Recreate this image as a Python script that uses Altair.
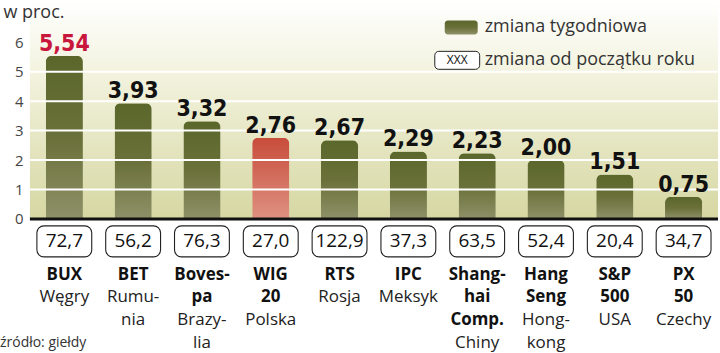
import altair as alt
import pandas as pd

# ---------------- data ----------------
categories = ["BUX", "BET", "Bovespa", "WIG 20", "RTS", "IPC",
              "Shanghai Comp.", "Hang Seng", "S&P 500", "PX 50"]
weekly = [5.54, 3.93, 3.32, 2.76, 2.67, 2.29, 2.23, 2.00, 1.51, 0.75]
ytd = [72.7, 56.2, 76.3, 27.0, 122.9, 37.3, 63.5, 52.4, 20.4, 34.7]
name_lines = [["BUX"], ["BET"], ["Boves-", "pa"], ["WIG", "20"], ["RTS"], ["IPC"],
              ["Shang-", "hai", "Comp."], ["Hang", "Seng"], ["S&P", "500"], ["PX", "50"]]
country_lines = [["Węgry"], ["Rumu-", "nia"], ["Brazy-", "lia"], ["Polska"], ["Rosja"],
                 ["Meksyk"], ["Chiny"], ["Hong-", "kong"], ["USA"], ["Czechy"]]
y_ticks = [0, 1, 2, 3, 4, 5, 6]
gridlines = [1, 2, 3, 4, 5]
highlight = "WIG 20"
top_gainer = "BUX"
unit_title = "w proc."
source_text = "źródło: giełdy"
legend_weekly = "zmiana tygodniowa"
legend_ytd = "zmiana od początku roku"

df = pd.DataFrame({
    "cat": categories,
    "weekly": weekly,
    "weekly_label": [f"{v:.2f}".replace(".", ",") for v in weekly],
    "ytd_label": [f"{v:.1f}".replace(".", ",") for v in ytd],
})

rows = []
for c, names, countries in zip(categories, name_lines, country_lines):
    r = 1
    for t in names:
        rows.append({"cat": c, "row": r, "text": t, "bold": True})
        r += 1
    for t in countries:
        rows.append({"cat": c, "row": r, "text": t, "bold": False})
        r += 1
lines_df = pd.DataFrame(rows)

# ---------------- styles ----------------
FONT = "Open Sans"
NARROW = "DejaVu Sans Condensed, Liberation Sans Narrow, Roboto, sans-serif"

green_grad = {"gradient": "linear", "x1": 0, "y1": 0, "x2": 0, "y2": 1,
              "stops": [{"offset": 0, "color": "#5a672b"},
                        {"offset": 0.5, "color": "#6a7039"},
                        {"offset": 1, "color": "#8e9168"}]}
red_grad = {"gradient": "linear", "x1": 0, "y1": 0, "x2": 0, "y2": 1,
            "stops": [{"offset": 0, "color": "#c84c3b"},
                      {"offset": 1, "color": "#df9181"}]}
bg_grad = {"gradient": "linear", "x1": 0, "y1": 0, "x2": 0, "y2": 1,
           "stops": [{"offset": 0, "color": "#ffffff"},
                     {"offset": 0.3, "color": "#f4f4e2"},
                     {"offset": 1, "color": "#d6d7a2"}]}

W = 690
H_TOP = 219
H_BOT = 134

x_scale = alt.Scale(domain=categories, paddingInner=0.46, paddingOuter=0.23)
X = alt.X("cat:N", scale=x_scale, axis=None, sort=categories)
y_scale = alt.Scale(domain=[0, 7.42], nice=False, zero=True)
y_axis = alt.Axis(values=y_ticks, grid=False, domain=False, ticks=False,
                  labelFont=FONT, labelFontSize=15, labelColor="#444",
                  labelPadding=7, title=unit_title, titleAngle=0,
                  titleAlign="left", titleBaseline="middle",
                  titleX=-27, titleY=12, titleFont=FONT, titleFontSize=18,
                  titleFontWeight="normal", titleColor="#333", zindex=2)


def Y(field):
    return alt.Y(field, scale=y_scale, axis=y_axis, title=unit_title)


# ---------------- top chart ----------------
one = pd.DataFrame({"z": [0]})

background = alt.Chart(one).mark_rect(fill=bg_grad).encode(
    x=alt.value(0), x2=alt.value("width"), y=alt.value(0), y2=alt.value("height"))

bar_base = alt.Chart(df)

bars_green = bar_base.transform_filter(alt.datum.cat != highlight).mark_bar(
    fill=green_grad, cornerRadiusTopLeft=6, cornerRadiusTopRight=6
).encode(x=X, y=Y("weekly:Q"))

bars_red = bar_base.transform_filter(alt.datum.cat == highlight).mark_bar(
    fill=red_grad, cornerRadiusTopLeft=6, cornerRadiusTopRight=6
).encode(x=X, y=Y("weekly:Q"))

grid = alt.Chart(pd.DataFrame({"g": gridlines})).mark_rule(
    color="white", strokeWidth=2).encode(y=Y("g:Q"))

zero = alt.Chart(one).mark_rule(color="#111", strokeWidth=3).encode(y=Y("z:Q"))

value_labels = bar_base.mark_text(
    font=NARROW, fontSize=23, fontWeight="bold", baseline="alphabetic", dy=-5
).encode(
    x=X, y=Y("weekly:Q"), text="weekly_label:N",
    color=alt.condition(alt.datum.cat == top_gainer, alt.value("#c8163c"), alt.value("#111")))

# legend (manual)
leg_swatch = alt.Chart(one).mark_rect(fill=green_grad, cornerRadius=3).encode(
    x=alt.value(416), x2=alt.value(449), y=alt.value(20), y2=alt.value(34))
leg_text1 = alt.Chart(one).mark_text(
    text=legend_weekly, font=FONT, fontSize=18, align="left", baseline="middle",
    color="#333").encode(x=alt.value(456), y=alt.value(27))
leg_box = alt.Chart(one).mark_rect(fill="white", stroke="#222", strokeWidth=1,
                                    cornerRadius=4).encode(
    x=alt.value(406), x2=alt.value(451), y=alt.value(51), y2=alt.value(69))
leg_box_text = alt.Chart(one).mark_text(
    text="XXX", font=FONT, fontSize=12, align="center", baseline="middle",
    color="#111").encode(x=alt.value(428.5), y=alt.value(60))
leg_text2 = alt.Chart(one).mark_text(
    text=legend_ytd, font=FONT, fontSize=18, align="left", baseline="middle",
    color="#333").encode(x=alt.value(456), y=alt.value(60))

top = alt.layer(background, bars_green, bars_red, grid, zero, value_labels,
                leg_swatch, leg_text1, leg_box, leg_box_text, leg_text2
                ).properties(width=W, height=H_TOP)

# ---------------- bottom chart ----------------
row_scale = alt.Scale(domain=[-1.47, 4.44], nice=False, zero=False, reverse=True)

boxes = alt.Chart(df).mark_bar(width=55, fill="white", stroke="#222", strokeWidth=1.1,
                               cornerRadius=7).encode(
    x=X, y=alt.Y("top:Q", scale=row_scale, axis=None), y2="bottom:Q"
).transform_calculate(top="-1.16", bottom="0.21")

box_text = alt.Chart(df).mark_text(font=FONT, fontSize=19, color="#111",
                                   baseline="middle").encode(
    x=X, y=alt.Y("r:Q", scale=row_scale, axis=None), text="ytd_label:N"
).transform_calculate(r="-0.48")

names_bold = alt.Chart(lines_df).transform_filter(alt.datum.bold == True).mark_text(
    font=FONT, fontSize=17, fontWeight="bold", color="#111", baseline="middle").encode(
    x=X, y=alt.Y("row:Q", scale=row_scale, axis=None), text="text:N")

names_reg = alt.Chart(lines_df).transform_filter(alt.datum.bold == False).mark_text(
    font=FONT, fontSize=17, color="#222", baseline="middle").encode(
    x=X, y=alt.Y("row:Q", scale=row_scale, axis=None), text="text:N")

source = alt.Chart(one).mark_text(
    text=source_text, font=FONT, fontSize=14, color="#333", align="left",
    baseline="middle").encode(x=alt.value(-30), y=alt.Y("src:Q", scale=row_scale, axis=None)
).transform_calculate(src="4")

bottom = alt.layer(boxes, box_text, names_bold, names_reg, source).properties(
    width=W, height=H_BOT)

chart = alt.vconcat(top, bottom, spacing=0, bounds="flush").properties(
    padding=0
).configure_view(stroke=None)

chart.save("out.html", embed_options={"renderer": "svg", "actions": False})
